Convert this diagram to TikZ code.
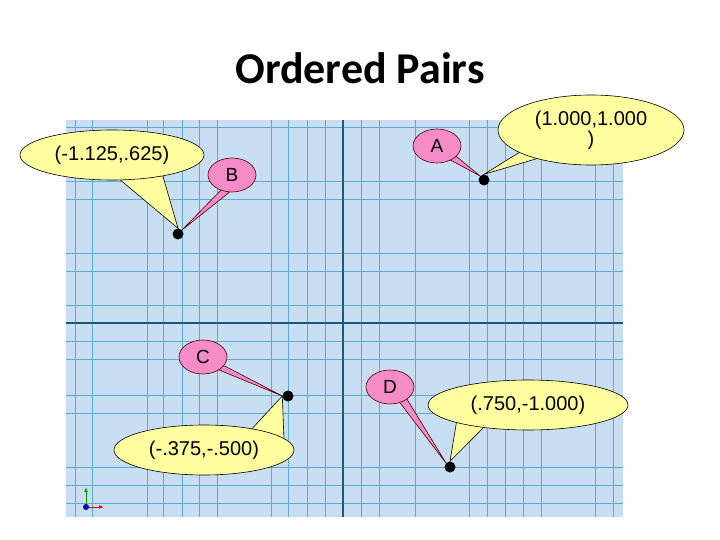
\documentclass[tikz,border=0pt]{standalone}
\usepackage{fontspec}
\setmainfont{Liberation Sans}
\newfontfamily\titlefont{Carlito}
\usetikzlibrary{shapes.geometric,arrows.meta,calc}
\definecolor{gridbg}{RGB}{200,222,242}
\definecolor{gridminor}{RGB}{95,170,210}
\definecolor{gridmajor}{RGB}{30,90,120}
\definecolor{yfill}{RGB}{255,255,160}
\definecolor{pfill}{RGB}{245,140,200}
\tikzset{
 minor/.style={draw=gridminor, line width=0.8pt},
 major/.style={draw=gridmajor, line width=1.6pt},
 yel/.style={ellipse, draw=black, fill=yfill, line width=0.6pt, inner sep=0pt, font=\fontsize{20}{20}\selectfont},
 pink/.style={ellipse, draw=black!70!red, fill=pfill, line width=0.6pt, inner sep=0pt, font=\fontsize{19}{20}\selectfont},
 ytail/.style={draw=black, fill=yfill, line width=0.6pt},
 ptail/.style={draw=black!70!red, fill=pfill, line width=0.6pt},
 dot/.style={circle, fill=black, inner sep=0pt, minimum size=11pt}
}
\begin{document}
\begin{tikzpicture}[x=1pt,y=-1pt]
\useasboundingbox (0,0) rectangle (720,540);
\fill[gridbg] (66,120) rectangle (623,517);
\foreach \x in {75,92,147,163,182,199,217,271,288,307,325,361,379,415,469,487,505,523,541,595,613}
  \draw[minor] (\x,120) -- (\x,517);
\foreach \y in {127,181,199,253,271,305,341,359,395,413,467,485,503}
  \draw[minor] (66,\y) -- (623,\y);
\draw[major] (66,323) -- (623,323);
\draw[major] (343,120) -- (343,517);
\node[font=\titlefont\bfseries\fontsize{44}{46}\selectfont] (t) at (360,68) {Ordered Pairs};
% dots
\node[dot] (pb) at (178,234) {};
\node[dot] (pa) at (484,180) {};
\node[dot] (pc) at (288,396) {};
\node[dot] (pd) at (450,467) {};
% callout bodies (positions)
\coordinate (lb) at (112,155);
\coordinate (la) at (591,130);
\coordinate (lc) at (204,450);
\coordinate (ld) at (528,405);
\coordinate (nb) at (232,175);
\coordinate (na) at (437,146);
\coordinate (nc) at (203,357);
\coordinate (nd) at (390,387);
% tails
\draw[ytail] ($(lb)+(0,18)$) -- (pb.north) -- ($(lb)+(50,18)$);
\draw[ytail] ($(la)+(-55,12)$) -- (pa.north) -- ($(la)+(-25,20)$);
\draw[ytail] ($(lc)+(45,-18)$) -- (pc.west) -- ($(lc)+(80,-10)$);
\draw[ytail] ($(ld)+(-70,8)$) -- (pd.north) -- ($(ld)+(-40,18)$);
\draw[ptail] ($(nb)+(-6,10)$) -- (pb.north east) -- ($(nb)+(4,12)$);
\draw[ptail] ($(na)+(6,10)$) -- (pa.north west) -- ($(na)+(14,6)$);
\draw[ptail] ($(nc)+(4,8)$) -- (pc.west) -- ($(nc)+(12,4)$);
\draw[ptail] ($(nd)+(4,8)$) -- (pd.north west) -- ($(nd)+(12,4)$);
% bodies
\node[yel, minimum width=184pt, minimum height=50pt] (tb) at (lb) {(-1.125,.625)};
\node[yel, minimum width=186pt, minimum height=70pt, align=center] (ta) at (la) {(1.000,1.000\\)};
\node[yel, minimum width=180pt, minimum height=50pt] (tc) at (lc) {(-.375,-.500)};
\node[yel, minimum width=200pt, minimum height=50pt] (td) at (ld) {(.750,-1.000)};
\node[pink, minimum width=48pt, minimum height=34pt] (kb) at (nb) {B};
\node[pink, minimum width=48pt, minimum height=34pt] (ka) at (na) {A};
\node[pink, minimum width=48pt, minimum height=34pt] (kc) at (nc) {C};
\node[pink, minimum width=48pt, minimum height=34pt] (kd) at (nd) {D};
% axis icon
\coordinate (o) at (86,507);
\coordinate (ox) at (104,507);
\coordinate (oy) at (86,487);
\draw[red, -{Latex[length=5pt]}, line width=1pt] (o) -- (ox);
\draw[green!60!black, -{Latex[length=5pt]}, line width=1pt] (o) -- (oy);
\fill[blue!70!black] (o) circle (3pt);
\end{tikzpicture}
\end{document}
